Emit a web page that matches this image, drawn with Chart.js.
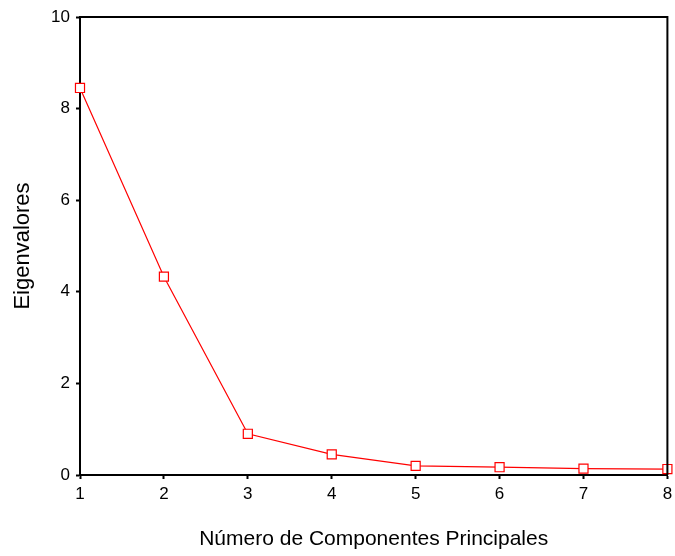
<!DOCTYPE html>
<html>
<head>
<meta charset="utf-8">
<script src="https://cdn.jsdelivr.net/npm/chart.js@4"></script>
<style>
html,body{margin:0;padding:0;background:#fff;}
#wrap{width:675px;height:556px;}
</style>
</head>
<body>
<div id="wrap"><canvas id="c" width="675" height="556"></canvas></div>
<script>
const components = [1, 2, 3, 4, 5, 6, 7, 8];
const eigenvalues = [8.45, 4.33, 0.90, 0.45, 0.20, 0.17, 0.14, 0.13];
const yTicks = [0, 2, 4, 6, 8, 10];
const xTitle = 'Número de Componentes Principales';
const yTitle = 'Eigenvalores';

const frame = {
  id: 'frame',
  afterDraw(chart) {
    const a = chart.chartArea, ctx = chart.ctx;
    ctx.save();
    ctx.strokeStyle = '#000';
    ctx.lineWidth = 2;
    ctx.beginPath();
    ctx.moveTo(a.left, a.top);
    ctx.lineTo(a.right, a.top);
    ctx.lineTo(a.right, a.bottom);
    ctx.stroke();
    ctx.restore();
  }
};

const FONT = 'Liberation Sans, Arial, sans-serif';

new Chart(document.getElementById('c'), {
  type: 'line',
  data: {
    datasets: [{
      data: components.map((c, i) => ({x: c, y: eigenvalues[i]})),
      borderColor: '#ff0000',
      borderWidth: 1.2,
      backgroundColor: '#ffffff',
      pointStyle: 'rect',
      pointRadius: 6.4,
      pointBorderWidth: 1.2,
      pointBorderColor: '#ff0000',
      pointBackgroundColor: '#ffffff',
      tension: 0,
      clip: false
    }]
  },
  options: {
    responsive: false,
    animation: false,
    devicePixelRatio: 1,
    layout: {padding: {top: 17, right: 4, left: 0, bottom: 0}},
    plugins: {legend: {display: false}, tooltip: {enabled: false}},
    scales: {
      x: {
        type: 'linear', min: 1, max: 8,
        afterFit(s) { s.height = 81; s.paddingLeft = 0; s.paddingRight = 0; },
        afterBuildTicks(s) { s.ticks = components.map(v => ({value: v})); },
        grid: {drawOnChartArea: false, tickLength: 4, color: '#000', tickWidth: 2},
        border: {color: '#000', width: 2},
        ticks: {color: '#000', font: {family: FONT, size: 17}, padding: 5, maxRotation: 0},
        title: {display: true, text: xTitle, color: '#000', font: {family: FONT, size: 21}, padding: {top: 0, bottom: 4}}
      },
      y: {
        type: 'linear', min: 0, max: 10,
        afterFit(s) { s.width = 80; s.paddingTop = 0; s.paddingBottom = 0; },
        afterBuildTicks(s) { s.ticks = yTicks.map(v => ({value: v})); },
        grid: {drawOnChartArea: false, tickLength: 4, color: '#000', tickWidth: 2},
        border: {color: '#000', width: 2},
        ticks: {color: '#000', font: {family: FONT, size: 17}, padding: 6},
        title: {display: true, text: yTitle, color: '#000', font: {family: FONT, size: 22}, padding: {top: 10, bottom: 0}}
      }
    }
  },
  plugins: [frame]
});
</script>
</body>
</html>
